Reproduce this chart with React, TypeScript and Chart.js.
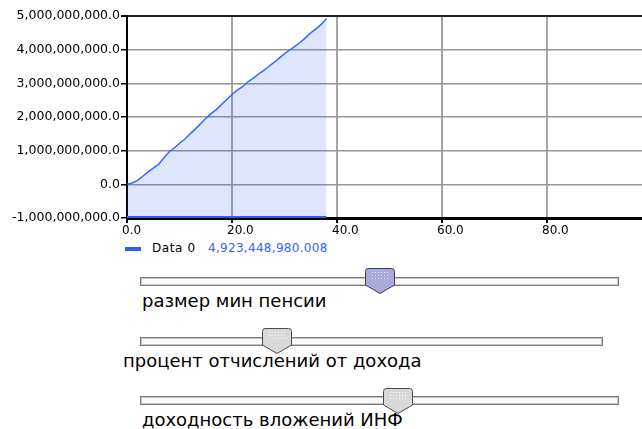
import React, { useEffect, useRef } from "react";
import { Chart, registerables } from "chart.js";

Chart.register(...registerables);

// ---- data ----
const years = [0, 1, 2, 3, 4, 5, 6, 7, 8, 9, 10, 11, 12, 13, 14, 15, 16, 17, 18, 19, 20, 21, 22, 23, 24, 25, 26, 27, 28, 29, 30, 31, 32, 33, 34, 35, 36, 37, 38];
const fundValues = [
  0, 0.04e9, 0.12e9, 0.24e9, 0.37e9, 0.48e9, 0.59e9, 0.78e9, 0.96e9, 1.08e9,
  1.22e9, 1.34e9, 1.5e9, 1.64e9, 1.8e9, 1.96e9, 2.1e9, 2.22e9, 2.37e9, 2.52e9,
  2.67e9, 2.8e9, 2.9e9, 3.04e9, 3.15e9, 3.27e9, 3.38e9, 3.5e9, 3.62e9, 3.75e9,
  3.88e9, 3.99e9, 4.1e9, 4.22e9, 4.35e9, 4.5e9, 4.62e9, 4.75e9, 4923448980.008,
];
const baselineYears = [0, 38];
const baselineValues = [-1e9, -1e9];
const seriesName = "Data 0";
const currentValue = 4923448980.008;
const xTicks = [0, 20, 40, 60, 80, 100];
const yTicks = [-1e9, 0, 1e9, 2e9, 3e9, 4e9, 5e9];
const sliderLabels = ["размер мин пенсии", "процент отчислений от дохода", "доходность вложений ИНФ"];
const sliderValues = [50, 28, 54];

const FONT = "'DejaVu Sans', Verdana, sans-serif";

const sliderGeom = [
  { left: 140, right: 619, top: 277, thumbTop: 268, labelLeft: 142, labelTop: 291 },
  { left: 140, right: 603, top: 337, thumbTop: 328, labelLeft: 123, labelTop: 351 },
  { left: 140, right: 619, top: 396, thumbTop: 388, labelLeft: 142, labelTop: 410 },
];

function Thumb({ x, y, active }: { x: number; y: number; active: boolean }) {
  const fill = active ? "#a9a9de" : "#d8d8d8";
  const stroke = active ? "#3a3a5a" : "#4a4a4a";
  const pid = active ? "dotsA" : "dotsG";
  return (
    <svg width={30} height={27} style={{ position: "absolute", left: x, top: y }}>
      <defs>
        <pattern id={pid} width="3" height="3" patternUnits="userSpaceOnUse">
          <rect x="1" y="1" width="1" height="1" fill={active ? "#e4e4ff" : "#f8f8f8"} />
        </pattern>
      </defs>
      <path
        d="M3,0.5 H26.5 Q29.5,0.5 29.5,3.5 V17 L15,25.5 L0.5,17 V3.5 Q0.5,0.5 3,0.5 Z"
        fill={fill}
        stroke={stroke}
        strokeWidth={1}
      />
      <rect x="6" y="3" width="18" height="9" fill={`url(#${pid})`} />
    </svg>
  );
}

export default function App() {
  const ref = useRef<HTMLCanvasElement>(null);

  useEffect(() => {
    const canvas = ref.current!;
    const chart = new Chart(canvas, {
      type: "line",
      data: {
        datasets: [
          {
            label: seriesName,
            data: years.map((x, i) => ({ x, y: fundValues[i] })),
            borderColor: "#3366ff",
            backgroundColor: "rgba(51,102,255,0.17)",
            borderWidth: 1.5,
            pointRadius: 0,
            fill: "start",
            tension: 0,
          },
          {
            label: "base",
            data: baselineYears.map((x, i) => ({ x, y: baselineValues[i] })),
            borderColor: "#2a5cf5",
            borderWidth: 4,
            pointRadius: 0,
            fill: false,
            clip: 0,
          } as any,
        ],
      },
      options: {
        animation: false,
        responsive: false,
        events: [],
        layout: { padding: { top: 16, right: 8, left: 0, bottom: 0 } },
        plugins: { legend: { display: false }, tooltip: { enabled: false } },
        scales: {
          x: {
            type: "linear",
            min: xTicks[0],
            max: xTicks[xTicks.length - 1],
            afterBuildTicks: (s: any) => {
              s.ticks = xTicks.map((v) => ({ value: v }));
            },
            afterFit: (s: any) => {
              s.height = 22;
            },
            ticks: {
              align: "start",
              labelOffset: -5,
              padding: 1,
              maxRotation: 0,
              autoSkip: false,
              color: "#000",
              font: { family: FONT, size: 12 },
              callback: (v: any) => (v === 100 ? "" : Number(v).toFixed(1)),
            },
            grid: { color: "#a4a4a4", lineWidth: 2, tickLength: 5, tickColor: "#000" },
            border: { color: "#000", width: 3 },
          },
          y: {
            type: "linear",
            min: yTicks[0],
            max: yTicks[yTicks.length - 1],
            afterBuildTicks: (s: any) => {
              s.ticks = yTicks.map((v) => ({ value: v }));
            },
            afterFit: (s: any) => {
              s.width = 127;
            },
            ticks: {
              padding: 1,
              color: "#000",
              font: { family: FONT, size: 12.5 },
              callback: (v: any) =>
                Number(v).toLocaleString("en-US", { minimumFractionDigits: 1, maximumFractionDigits: 1 }),
            },
            grid: {
              color: (c: any) => (c.tick && c.tick.value === 5e9 ? "#222" : "#949494"),
              lineWidth: (c: any) => (c.tick && c.tick.value === 5e9 ? 2 : 1.5),
              tickLength: 6,
              tickColor: "#000",
            },
            border: { color: "#000", width: 2 },
          },
        },
      } as any,
    });
    return () => chart.destroy();
  }, []);

  const fmtValue = currentValue.toLocaleString("en-US", { minimumFractionDigits: 3, maximumFractionDigits: 3 });

  return (
    <div
      style={{
        position: "absolute",
        left: 0,
        top: 0,
        width: 642,
        height: 429,
        overflow: "hidden",
        background: "#fff",
        fontFamily: FONT,
      }}
    >
      <canvas ref={ref} width={660} height={240} style={{ position: "absolute", left: 0, top: 0, display: "block" }} />
      {/* legend */}
      <div style={{ position: "absolute", left: 125, top: 247, width: 16, height: 4, background: "#2f5ff5" }} />
      <div
        style={{
          position: "absolute",
          left: 152,
          top: 242,
          fontSize: 12,
          lineHeight: "13px",
          letterSpacing: "0.6px",
          color: "#000",
          whiteSpace: "nowrap",
        }}
      >
        {seriesName}
      </div>
      <div
        style={{
          position: "absolute",
          left: 208,
          top: 242,
          fontSize: 12,
          lineHeight: "13px",
          letterSpacing: "0.3px",
          color: "#3366ee",
          whiteSpace: "nowrap",
        }}
      >
        {fmtValue}
      </div>
      {/* sliders */}
      {sliderGeom.map((g, i) => {
        const w = g.right - g.left;
        const thumbX = g.left + (sliderValues[i] / 100) * (w - 29);
        return (
          <React.Fragment key={i}>
            <div
              style={{
                position: "absolute",
                left: g.left,
                top: g.top,
                width: w,
                height: 9,
                boxSizing: "border-box",
                border: "1px solid #7c7c7c",
                boxShadow: "inset 0 0 0 1px #c4c4c4",
                background: "#fafafa",
              }}
            />
            <Thumb x={thumbX} y={g.thumbTop} active={i === 0} />
            <div
              style={{
                position: "absolute",
                left: g.labelLeft,
                top: g.labelTop,
                fontSize: 18,
                lineHeight: "20px",
                color: "#000",
                whiteSpace: "nowrap",
              }}
            >
              {sliderLabels[i]}
            </div>
          </React.Fragment>
        );
      })}
    </div>
  );
}
